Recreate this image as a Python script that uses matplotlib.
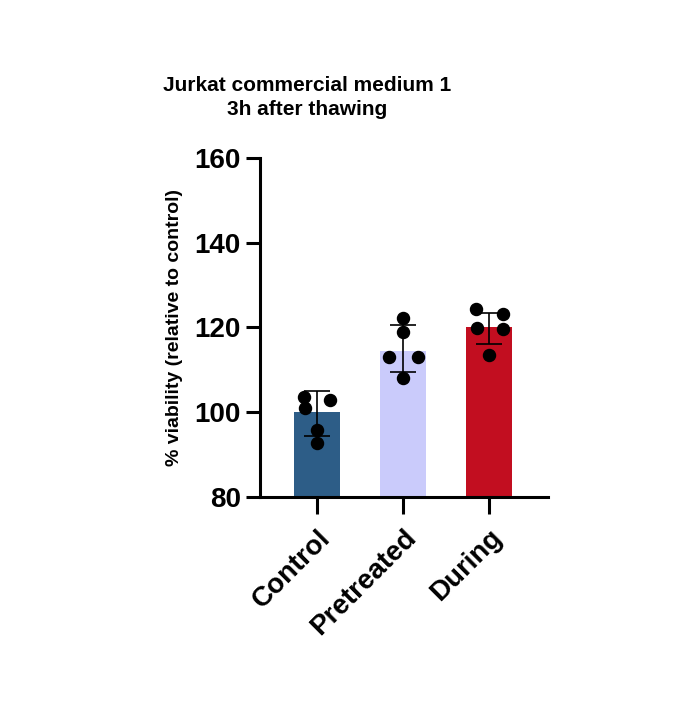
import matplotlib.pyplot as plt
import numpy as np

plt.rcParams['font.family'] = ['Liberation Sans', 'DejaVu Sans']
plt.rcParams['font.weight'] = 'bold'

categories = ['Control', 'Pretreated', 'During']
means = [100.0, 114.5, 120.0]
err_low = [94.4, 109.4, 116.0]
err_high = [104.9, 120.6, 123.5]
points = [
    [103.7, 102.9, 101.1, 95.8, 92.7],
    [122.2, 118.9, 113.1, 113.1, 108.0],
    [124.3, 123.2, 119.8, 119.6, 113.5],
]
jitter = [
    [-0.155, 0.155, -0.136, 0.0, 0.0],
    [0.0, 0.0, -0.165, 0.18, 0.0],
    [-0.15, 0.16, -0.14, 0.16, 0.0],
]
colors = ['#2d5d87', '#cacbfb', '#c20e20']

fig = plt.figure(figsize=(6.94, 7.24), dpi=100)
ax = fig.add_axes([0.375, 0.3135, 0.415, 0.4685])

x = np.arange(len(categories))
ax.bar(x, means, width=0.53, color=colors, zorder=1)
for i in range(len(categories)):
    ax.errorbar(x[i], means[i],
                yerr=[[means[i] - err_low[i]], [err_high[i] - means[i]]],
                fmt='none', ecolor='black', elinewidth=1.2, capsize=9.5, capthick=1.2, zorder=2)
    ax.scatter(x[i] + np.array(jitter[i]), points[i], s=75, color='black', zorder=3)

ax.set_xlim(-0.66, 2.69)
ax.set_ylim(80, 160)
ax.set_yticks([80, 100, 120, 140, 160])
ax.set_xticks(x)
ax.set_xticklabels(categories, rotation=45, ha='right', rotation_mode='anchor', fontsize=20)
ax.tick_params(axis='y', labelsize=20, width=2.2, length=10, pad=4)
ax.tick_params(axis='x', width=2.2, length=12, pad=8)
for s in ['top', 'right']:
    ax.spines[s].set_visible(False)
for s in ['left', 'bottom']:
    ax.spines[s].set_linewidth(2.2)
ax.set_ylabel('% viability (relative to control)', fontsize=14, fontweight='bold', labelpad=8)
fig.text(0.442, 0.895, 'Jurkat commercial medium 1\n3h after thawing', fontsize=15,
         fontweight='bold', ha='center', va='top', linespacing=1.3)

plt.savefig('out.png', dpi=100)
